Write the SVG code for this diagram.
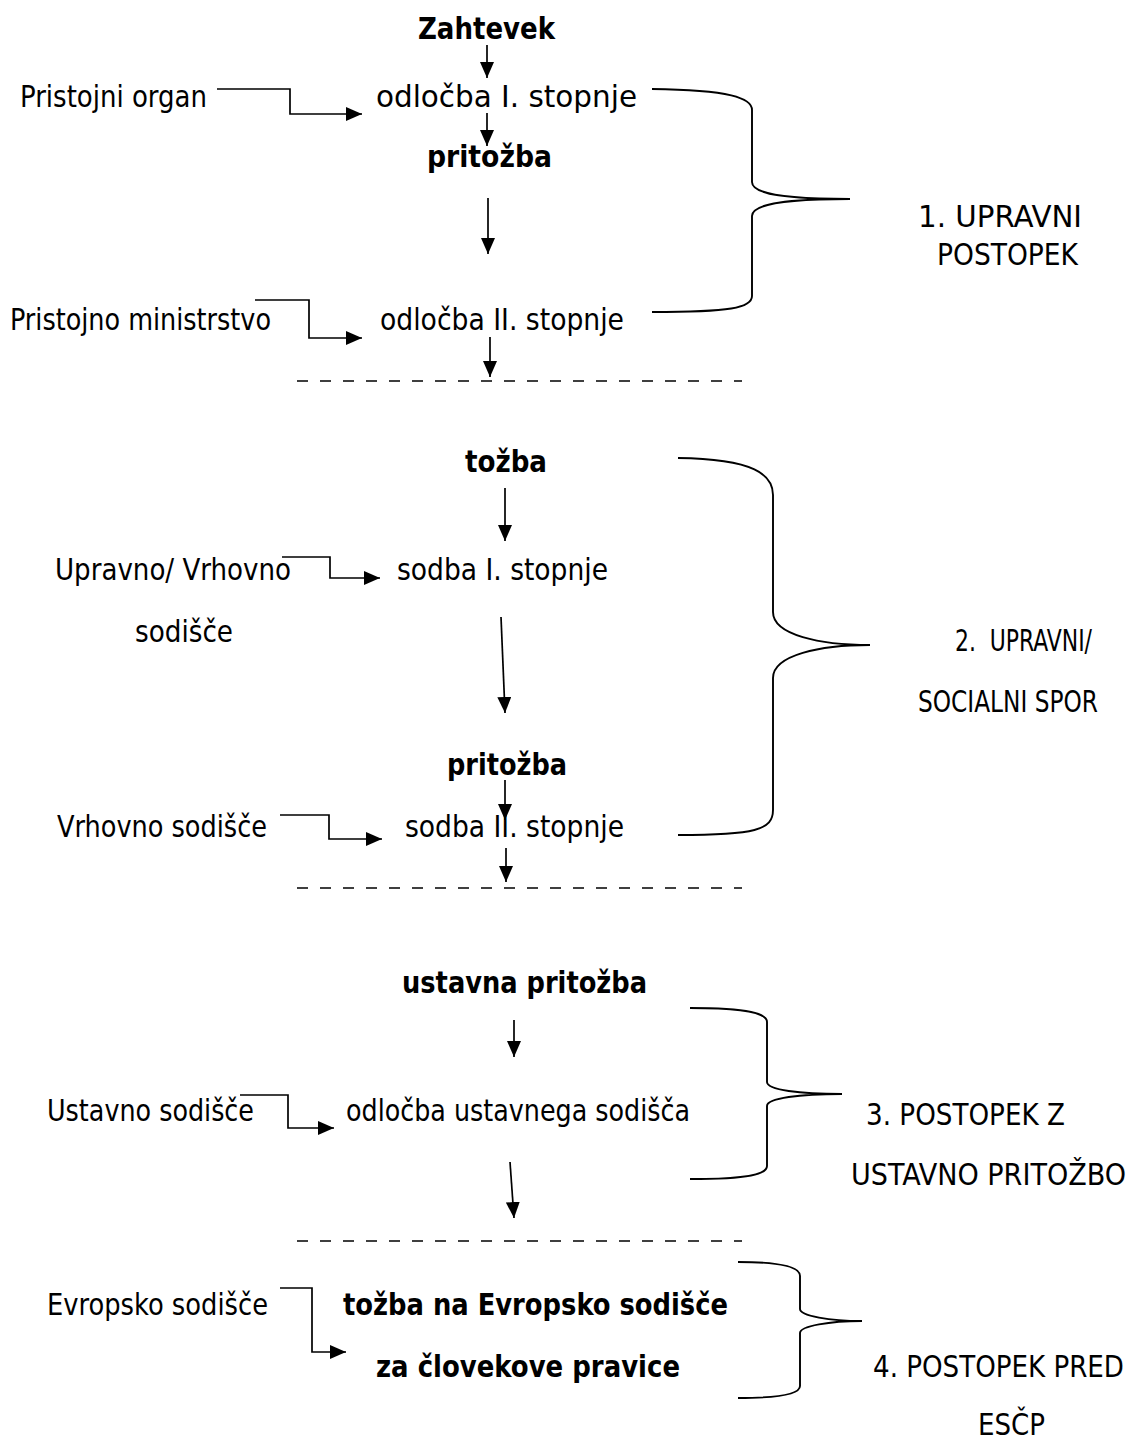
<svg xmlns="http://www.w3.org/2000/svg" width="1131" height="1440" viewBox="0 0 1131 1440">
<style>
text{font-family:"DejaVu Sans Condensed","DejaVu Sans",sans-serif;font-size:30px;fill:#000}
.b{font-weight:bold}
.c{fill:none;stroke:#000;stroke-width:1.7}
.d{fill:none;stroke:#000;stroke-width:1.7;stroke-dasharray:11 12}
.br{fill:none;stroke:#000;stroke-width:1.9}
</style>
<defs>
<marker id="ah" markerUnits="userSpaceOnUse" markerWidth="16" markerHeight="14" refX="16" refY="7" orient="auto"><path d="M0,0 L16,7 L0,14 z" fill="#000"/></marker>
</defs>
<rect width="1131" height="1440" fill="#fff"/>
<g id="n-zahtevek"><text class="b" x="418" y="39" textLength="137" lengthAdjust="spacingAndGlyphs">Zahtevek</text></g>
<g id="n-pristojni-organ"><text x="20" y="107" textLength="187" lengthAdjust="spacingAndGlyphs">Pristojni organ</text></g>
<g id="n-odlocba1"><text x="376" y="107" textLength="261" lengthAdjust="spacingAndGlyphs">odločba I. stopnje</text></g>
<g id="n-pritozba1"><text class="b" x="427" y="167" textLength="125" lengthAdjust="spacingAndGlyphs">pritožba</text></g>
<g id="n-ministrstvo"><text x="10" y="330" textLength="261" lengthAdjust="spacingAndGlyphs">Pristojno ministrstvo</text></g>
<g id="n-odlocba2"><text x="380" y="330" textLength="244" lengthAdjust="spacingAndGlyphs">odločba II. stopnje</text></g>
<g id="n-label1"><text x="918" y="227" textLength="164" lengthAdjust="spacingAndGlyphs">1. UPRAVNI</text><text x="937" y="265" textLength="141" lengthAdjust="spacingAndGlyphs">POSTOPEK</text></g>
<g id="n-tozba"><text class="b" x="465" y="472" textLength="82" lengthAdjust="spacingAndGlyphs">tožba</text></g>
<g id="n-upravno"><text x="55" y="580" textLength="236" lengthAdjust="spacingAndGlyphs">Upravno/ Vrhovno</text><text x="135" y="642" textLength="98" lengthAdjust="spacingAndGlyphs">sodišče</text></g>
<g id="n-sodba1"><text x="397" y="580" textLength="211" lengthAdjust="spacingAndGlyphs">sodba I. stopnje</text></g>
<g id="n-pritozba2"><text class="b" x="447" y="775" textLength="120" lengthAdjust="spacingAndGlyphs">pritožba</text></g>
<g id="n-vrhovno"><text x="57" y="837" textLength="210" lengthAdjust="spacingAndGlyphs">Vrhovno sodišče</text></g>
<g id="n-sodba2"><text x="405" y="837" textLength="219" lengthAdjust="spacingAndGlyphs">sodba II. stopnje</text></g>
<g id="n-label2"><text x="955" y="651" textLength="137" lengthAdjust="spacingAndGlyphs" xml:space="preserve">2.  UPRAVNI/</text><text x="918" y="712" textLength="180" lengthAdjust="spacingAndGlyphs">SOCIALNI SPOR</text></g>
<g id="n-ustavna"><text class="b" x="402" y="993" textLength="245" lengthAdjust="spacingAndGlyphs">ustavna pritožba</text></g>
<g id="n-ustavno-sodisce"><text x="47" y="1121" textLength="207" lengthAdjust="spacingAndGlyphs">Ustavno sodišče</text></g>
<g id="n-odlocba-us"><text x="346" y="1121" textLength="344" lengthAdjust="spacingAndGlyphs">odločba ustavnega sodišča</text></g>
<g id="n-label3"><text x="866" y="1125" textLength="199" lengthAdjust="spacingAndGlyphs">3. POSTOPEK Z</text><text x="851" y="1185" textLength="275" lengthAdjust="spacingAndGlyphs">USTAVNO PRITOŽBO</text></g>
<g id="n-evropsko"><text x="47" y="1315" textLength="221" lengthAdjust="spacingAndGlyphs">Evropsko sodišče</text></g>
<g id="n-esclp"><text class="b" x="343" y="1315" textLength="385" lengthAdjust="spacingAndGlyphs">tožba na Evropsko sodišče</text><text class="b" x="376" y="1377" textLength="304" lengthAdjust="spacingAndGlyphs">za človekove pravice</text></g>
<g id="n-label4"><text x="873" y="1377" textLength="251" lengthAdjust="spacingAndGlyphs">4. POSTOPEK PRED</text><text x="978" y="1435" textLength="67" lengthAdjust="spacingAndGlyphs">ESČP</text></g>
<g id="connectors">
<path class="c" d="M217,89 H290 V114 H362" marker-end="url(#ah)"/>
<path class="c" d="M255,300 H309 V338 H362" marker-end="url(#ah)"/>
<path class="c" d="M282,557 H330 V578 H380" marker-end="url(#ah)"/>
<path class="c" d="M280,815 H329 V839 H382" marker-end="url(#ah)"/>
<path class="c" d="M240,1095 H288 V1128 H334" marker-end="url(#ah)"/>
<path class="c" d="M280,1288 H312 V1352 H346" marker-end="url(#ah)"/>
<path class="c" d="M487,45 V78" marker-end="url(#ah)"/>
<path class="c" d="M487,113 V146" marker-end="url(#ah)"/>
<path class="c" d="M488,198 V254" marker-end="url(#ah)"/>
<path class="c" d="M490,337 V377" marker-end="url(#ah)"/>
<path class="c" d="M505,488 V541" marker-end="url(#ah)"/>
<path class="c" d="M501,617 L505,713" marker-end="url(#ah)"/>
<path class="c" d="M505,780 V820" marker-end="url(#ah)"/>
<path class="c" d="M506,848 V882" marker-end="url(#ah)"/>
<path class="c" d="M514,1020 V1057" marker-end="url(#ah)"/>
<path class="c" d="M510,1162 L514,1218" marker-end="url(#ah)"/>
<path class="d" d="M297,381 H742"/>
<path class="d" d="M297,888 H742"/>
<path class="d" d="M297,1241 H742"/>
<path class="br" d="M652,89 C730,90 752,98 752,110 V182 C752,195 790,199 850,199 C790,199 752,203 752,216 V296 C752,308 730,312 652,312"/>
<path class="br" d="M678,458 C755,459 773,475 773,495 V612 C773,635 820,645 870,645 C820,645 773,655 773,678 V810 C773,830 755,835 678,835"/>
<path class="br" d="M690,1008 C750,1008 767,1014 767,1022 V1082 C767,1090 800,1094 842,1094 C800,1094 767,1098 767,1106 V1166 C767,1174 750,1179 690,1179"/>
<path class="br" d="M738,1262 C785,1262 800,1268 800,1276 V1309 C800,1316 830,1321 862,1321 C830,1321 800,1326 800,1333 V1386 C800,1393 785,1398 738,1398"/>
</g>
</svg>
